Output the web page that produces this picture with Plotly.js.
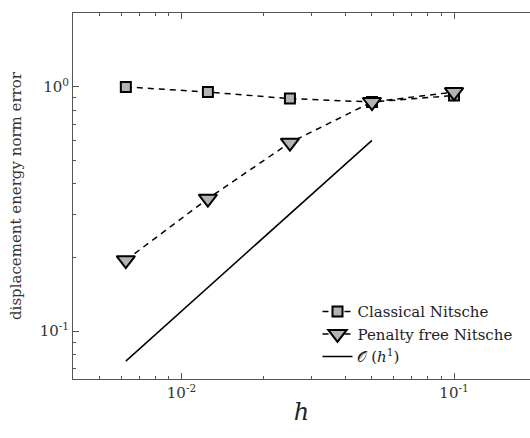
<!DOCTYPE html>
<html>
<head>
<meta charset="utf-8">
<script src="https://cdn.plot.ly/plotly-3.0.1.min.js"></script>
<style>
html,body{margin:0;padding:0;overflow:hidden;background:#fff;}
#chart{width:530px;height:438px;}
</style>
</head>
<body>
<div id="chart"></div>
<script>
var h = [0.00625, 0.0125, 0.025, 0.05, 0.1];
var classical = [0.997, 0.95, 0.893, 0.865, 0.92];
var penaltyFree = [0.195, 0.348, 0.59, 0.865, 0.95];
var refH = [0.00625, 0.05];
var refErr = [0.0754, 0.603];
var xTickVals = [0.01, 0.1];
var xTickText = ['10<sup>-2</sup>', '10<sup>-1</sup>'];
var yTickVals = [0.1, 1];
var yTickText = ['10<sup>-1</sup>', '10<sup>0</sup>'];
var xMinor = [0.004,0.005,0.006,0.007,0.008,0.009,0.02,0.03,0.04,0.05,0.06,0.07,0.08,0.09];
var yMinor = [0.07,0.08,0.09,0.2,0.3,0.4,0.5,0.6,0.7,0.8,0.9];

var serif = 'DejaVu Serif';

var traces = [
  {x: h, y: classical, name: 'Classical Nitsche', mode: 'lines+markers', type: 'scatter',
   line: {color: '#000', width: 1.5, dash: '6px,5px'},
   marker: {symbol: 'square', size: 10, color: '#b3b3b3', line: {color: '#000', width: 2}}},
  {x: h, y: penaltyFree, name: 'Penalty free Nitsche', mode: 'lines+markers', type: 'scatter',
   line: {color: '#000', width: 1.5, dash: '6px,5px'},
   marker: {symbol: 'triangle-down', size: 16, color: '#b3b3b3', line: {color: '#000', width: 2}}},
  {x: refH, y: refErr, name: '𝒪 (<i>h</i><sup>1</sup>)', mode: 'lines', type: 'scatter',
   line: {color: '#000', width: 1.5}}
];

var layout = {
  width: 530, height: 438,
  margin: {l: 73, r: 0, t: 13, b: 59},
  paper_bgcolor: '#fff', plot_bgcolor: '#fff',
  font: {family: serif},
  showlegend: true,
  legend: {x: 0.535, y: 0.229, xanchor: 'left', yanchor: 'top', bgcolor: 'rgba(255,255,255,0)',
           font: {family: serif, size: 15, color: '#222'}, tracegroupgap: 0, itemwidth: 30},
  shapes: [
    {type: 'rect', xref: 'paper', yref: 'paper', x0: 0.988, x1: 1.0, y0: 0.003, y1: 0.996,
     fillcolor: '#fff', line: {width: 0}, layer: 'above'}
  ],
  xaxis: {
    type: 'log', showgrid: false, zeroline: false, showline: true, linecolor: '#555', linewidth: 1,
    mirror: 'ticks', ticks: 'inside', ticklen: 6, tickcolor: '#555', tickwidth: 1,
    tickmode: 'array', tickfont: {family: serif, size: 15, color: '#333'},
    range: [Math.log10(0.004), Math.log10(0.19)],
    tickvals: xTickVals, ticktext: xTickText,
    minor: {tickmode: 'array', tickvals: xMinor, ticks: 'inside', ticklen: 3, tickcolor: '#555'},
    title: {text: '<i>h</i>', font: {family: serif, size: 24, color: '#222'}, standoff: 2}
  },
  yaxis: {
    type: 'log', showgrid: false, zeroline: false, showline: true, linecolor: '#555', linewidth: 1,
    mirror: false, ticks: 'inside', ticklen: 6, tickcolor: '#555', tickwidth: 1,
    tickmode: 'array', tickfont: {family: serif, size: 15, color: '#333'},
    range: [Math.log10(0.0637), Math.log10(2)],
    tickvals: yTickVals, ticktext: yTickText,
    minor: {tickmode: 'array', tickvals: yMinor, ticks: 'inside', ticklen: 3, tickcolor: '#555'},
    title: {text: 'displacement energy norm error', font: {family: serif, size: 15, color: '#333'}, standoff: 14}
  }
};

Plotly.newPlot('chart', traces, layout, {displayModeBar: false, staticPlot: true});
</script>
</body>
</html>
